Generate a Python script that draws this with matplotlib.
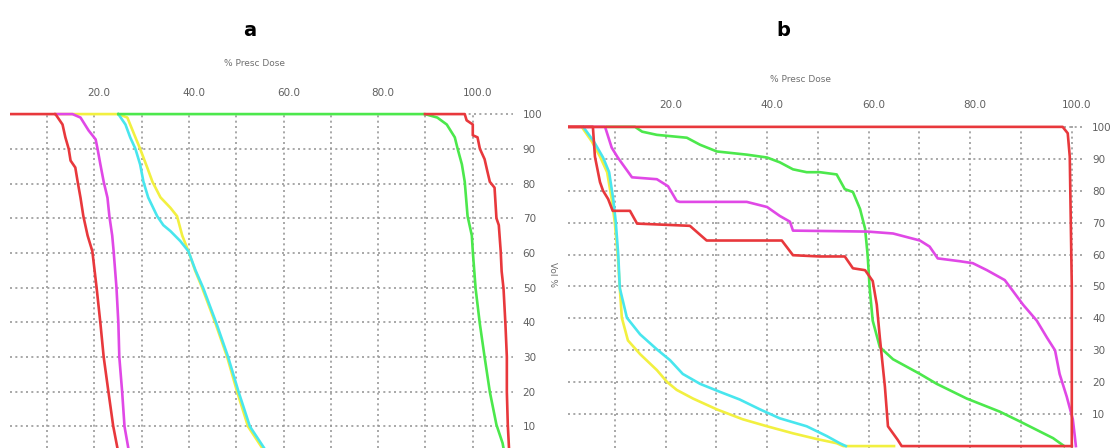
import matplotlib
matplotlib.use("Agg")
from matplotlib import pyplot as plt
from matplotlib import transforms
import numpy as np

# panel a curves  (dose %, volume %)
a_red1_x = [2.2, 11.8, 13.3, 13.9, 14.6, 15.0, 16.0, 16.5, 17.1, 17.7, 18.6, 19.6, 20.5, 21.3, 22.0, 23.0, 24.0, 24.9, 25.5]
a_red1_y = [100, 100, 97, 93.3, 90, 86.6, 84.6, 80.5, 75.9, 70.6, 65, 60.5, 50, 39.8, 30, 20, 10.2, 3.8, 0]
a_mag_x = [11.8, 15.4, 17.1, 18.8, 20.3, 20.7, 21.3, 22.0, 22.8, 23.2, 23.8, 24.1, 24.7, 25.1, 25.3, 25.9, 26.4, 27.2, 27.6]
a_mag_y = [100, 100, 99, 95.3, 92.7, 90, 85.5, 80.5, 75.9, 70.6, 65, 60.5, 50, 39.8, 30, 20, 10, 3.8, 0]
a_yel_x = [11.8, 25.1, 27.0, 28.7, 29.7, 31.2, 32.3, 34.0, 36.1, 37.5, 38.6, 39.9, 41.3, 42.8, 45.6, 48.1, 50.2, 52.5, 55.5, 57.0]
a_yel_y = [100, 100, 99, 93.3, 90, 84.6, 80.5, 76, 73, 70.6, 65, 60.5, 55, 50, 39.8, 30, 20, 10, 3.8, 0]
a_cyan_x = [25.1, 26.6, 27.6, 28.7, 29.7, 30.4, 31.4, 33.3, 34.6, 36.1, 38.2, 39.9, 41.4, 43.0, 45.8, 48.3, 50.5, 52.9, 55.9, 57.4]
a_cyan_y = [100, 97, 93.3, 90, 85.5, 80.5, 76, 70.6, 68, 66.3, 63.4, 60.5, 55, 50, 39.8, 30, 20, 10, 3.8, 0]
a_green_x = [25.1, 89.9, 92.5, 94.5, 96.2, 96.8, 97.7, 98.3, 98.9, 99.8, 100.0, 100.6, 101.5, 102.5, 103.6, 105.0, 106.3, 107.0]
a_green_y = [100, 100, 99, 97, 93.3, 90, 85.5, 80.5, 70.6, 65, 60.5, 49.7, 39.5, 30, 20, 10.5, 5.2, 0]
a_red2_x = [89.9, 97.7, 98.3, 98.7, 100.0, 100.0, 101.0, 101.5, 102.5, 103.0, 103.6, 104.6, 105.0, 105.5, 105.9, 106.1,
            106.5, 106.9, 107.2, 107.2, 107.4, 107.6, 107.8]
a_red2_y = [100, 100, 100, 98.2, 97, 93.9, 93.3, 90, 87, 84, 80.5, 78.8, 70, 68, 60.5, 54.7, 49.7, 39.5, 30, 20, 10.5, 5.2, 0]

# panel b curves
b_red1_x = [0.5, 98.2, 99.2, 99.6, 100.0, 100.0]
b_red1_y = [100, 100, 98, 90.7, 50, 0]
b_red2_x = [0.5, 5.7, 6.1, 7.1, 7.7, 8.7, 9.6, 13.0, 14.4, 24.8, 28.1, 42.9, 45.1, 50.4, 55.3, 56.9, 59.3, 60.8, 61.6,
            62.2, 63.2, 63.8, 65.7, 66.5, 100.0]
b_red2_y = [100, 100, 90.7, 82.7, 80, 77.4, 73.7, 73.7, 69.7, 69, 64.4, 64.4, 59.8, 59.4, 59.4, 55.7, 55.1, 51.7, 44.3,
            34, 18.6, 6.2, 2, 0, 0]
b_green_x = [8.5, 14.0, 15.4, 18.3, 24.2, 26.8, 30.1, 36.0, 40.0, 42.5, 45.1, 47.8, 50.4, 53.7, 55.3, 56.9, 58.3, 59.3,
             59.8, 60.2, 60.8, 62.2, 64.8, 70.1, 73.4, 79.3, 85.8, 89.8, 96.3, 98.5]
b_green_y = [100, 100, 98.5, 97.5, 96.6, 94.4, 92.3, 91.3, 90.4, 88.9, 86.7, 85.8, 85.8, 85.1, 80.5, 79.6, 74.3, 68.1,
             59.8, 49.5, 39.3, 31, 27.2, 22.6, 19.5, 14.9, 10.8, 7.7, 2.5, 0]
b_mag_x = [0.5, 8.1, 9.4, 10.6, 13.4, 18.3, 20.5, 22.2, 22.8, 36.0, 40.0, 42.5, 44.5, 45.1, 59.8, 64.8, 70.1, 72.0,
           73.6, 78.0, 80.5, 83.3, 86.8, 88.4, 90.4, 93.1, 95.1, 96.7, 97.6, 99.0, 100.2, 100.6, 100.8]
b_mag_y = [100, 100, 93.5, 90.4, 84.2, 83.6, 81.4, 76.8, 76.5, 76.5, 74.9, 72.1, 70.3, 67.5, 67.2, 66.6, 64.4, 62.5,
           58.8, 57.9, 57.3, 55.1, 52, 48.6, 44.3, 39.3, 34, 30, 22.6, 15.5, 8.4, 3, 0]
b_yel_x = [0.5, 3.5, 5.5, 7.1, 8.5, 9.4, 10.0, 10.6, 11.0, 11.4, 12.6, 15.0, 18.3, 20.3, 22.2, 25.4, 30.1, 35.2, 40.0,
           45.1, 49.8, 53.7, 55.0, 65.0]
b_yel_y = [100, 100, 95.4, 90.7, 85.8, 77.4, 70.3, 59.8, 49.5, 40.2, 33.1, 28.8, 23.8, 20.1, 17.6, 14.9, 11.5, 8.4, 6.2,
           4, 2.2, 0.9, 0, 0]
b_cyan_x = [3.8, 5.9, 7.7, 8.9, 9.7, 10.2, 10.7, 11.0, 12.4, 15.0, 18.3, 20.9, 23.4, 26.8, 30.7, 34.6, 38.6, 42.5, 47.8,
            51.8, 54.3, 55.5]
b_cyan_y = [100, 95.4, 90.4, 85.8, 77.4, 70.3, 59.8, 49.5, 40.2, 35, 30.3, 26.9, 22.6, 19.5, 17, 14.6, 11.5, 8.7, 6.2,
            3.1, 0.9, 0]

x_major = [20, 40, 60, 80, 100]
x_minor = [10, 30, 50, 70, 90]
y_ticks = [10, 20, 30, 40, 50, 60, 70, 80, 90, 100]

RED = '#e8383c'
MAG = '#e048e6'
CYAN = '#48e6ee'
YEL = '#f2f040'
GRN = '#4ce84c'

W, H = 1118, 448
fig = plt.figure(figsize=(W / 100, H / 100), dpi=100)


def px_axes(left, right, top, bottom):
    return fig.add_axes([left / W, 1 - bottom / H, (right - left) / W, (bottom - top) / H])


def style(ax, xlim, ylim):
    ax.set_xlim(*xlim)
    ax.set_ylim(*ylim)
    for s in ax.spines.values():
        s.set_visible(False)
    ax.xaxis.tick_top()
    ax.set_xticks(x_major)
    ax.set_xticks(x_minor, minor=True)
    ax.set_xticklabels(['%.1f' % v for v in x_major])
    ax.yaxis.tick_right()
    ax.set_yticks(y_ticks)
    ax.set_yticklabels([str(v) for v in y_ticks])
    ax.tick_params(which='both', length=0)
    ax.tick_params(axis='x', labelsize=7.5, labelcolor='#606060', pad=10)
    ax.tick_params(axis='y', labelsize=7.5, labelcolor='#606060', pad=7)
    ax.grid(True, which='both', color='#999999', linestyle=(0, (1.2, 2.0)), linewidth=1.2)
    ax.set_axisbelow(True)
    off = transforms.ScaledTranslation(5 / 100, 0, fig.dpi_scale_trans)
    for lab in ax.get_xticklabels():
        lab.set_transform(lab.get_transform() + off)


lw = 1.9

# panel a
ax1 = px_axes(10, 513, 112, 448)
style(ax1, (2.2, 108.5), (3.8, 100.6))
ax1.plot(a_yel_x, a_yel_y, color=YEL, lw=lw)
ax1.plot(a_cyan_x, a_cyan_y, color=CYAN, lw=lw)
ax1.plot(a_green_x, a_green_y, color=GRN, lw=lw)
ax1.plot(a_mag_x, a_mag_y, color=MAG, lw=lw)
ax1.plot(a_red2_x, a_red2_y, color=RED, lw=lw)
ax1.plot(a_red1_x, a_red1_y, color=RED, lw=lw)

# panel b
ax2 = px_axes(568, 1085, 124, 448)
style(ax2, (0.8, 102.6), (-0.6, 100.9))
ax2.tick_params(axis='y', pad=5)
ax2.plot(b_yel_x, b_yel_y, color=YEL, lw=lw)
ax2.plot(b_cyan_x, b_cyan_y, color=CYAN, lw=lw)
ax2.plot(b_green_x, b_green_y, color=GRN, lw=lw)
ax2.plot(b_mag_x, b_mag_y, color=MAG, lw=lw)
ax2.plot(b_red2_x, b_red2_y, color=RED, lw=lw)
ax2.plot(b_red1_x, b_red1_y, color=RED, lw=lw)

fig.text(250 / W, 1 - 30 / H, 'a', ha='center', va='center', fontsize=14, fontweight='bold')
fig.text(783 / W, 1 - 30 / H, 'b', ha='center', va='center', fontsize=14, fontweight='bold')
fig.text(255 / W, 1 - 64 / H, '% Presc Dose', ha='center', va='center', fontsize=6.5, color='#707070')
fig.text(800 / W, 1 - 80 / H, '% Presc Dose', ha='center', va='center', fontsize=6.5, color='#707070')
fig.text(552 / W, 1 - 275 / H, 'Vol %', ha='center', va='center', fontsize=6.5, color='#707070', rotation=270)

fig.savefig('out.png', dpi=100)
